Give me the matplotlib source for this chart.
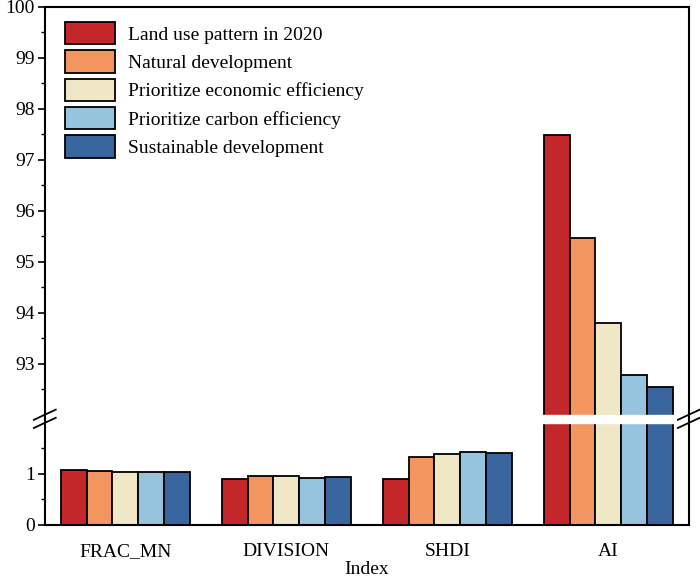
import numpy as np
import matplotlib.pyplot as plt
from matplotlib.patches import Patch
from matplotlib.ticker import FixedLocator

indices = ["FRAC_MN", "DIVISION", "SHDI", "AI"]
scenarios = ["Land use pattern in 2020", "Natural development",
             "Prioritize economic efficiency", "Prioritize carbon efficiency",
             "Sustainable development"]
colors = ["#C4272A", "#F3955F", "#EFE7C6", "#96C3DE", "#3A66A0"]

land_2020 = [1.08, 0.89, 0.89, 97.49]
natural = [1.065, 0.95, 1.34, 95.46]
economic = [1.045, 0.965, 1.38, 93.79]
carbon = [1.035, 0.925, 1.42, 92.77]
sustainable = [1.04, 0.93, 1.41, 92.54]
series = [land_2020, natural, economic, carbon, sustainable]

# broken axis: 0-2 and 92-100, squeezed gap in between
LOW, HIGH, GAP = 2.0, 92.0, 0.16

def fwd(y):
    y = np.asarray(y, dtype=float)
    return np.where(y <= LOW, y,
                    np.where(y >= HIGH, y - HIGH + LOW + GAP,
                             LOW + (y - LOW) * GAP / (HIGH - LOW)))

def inv(t):
    t = np.asarray(t, dtype=float)
    return np.where(t <= LOW, t,
                    np.where(t >= LOW + GAP, t - LOW - GAP + HIGH,
                             LOW + (t - LOW) * (HIGH - LOW) / GAP))

plt.rcParams['font.family'] = ['Liberation Serif', 'DejaVu Serif']
plt.rcParams['font.size'] = 14

fig = plt.figure(figsize=(7.0, 5.78), dpi=100)
ax = fig.add_axes([0.064, 0.092, 0.920, 0.896])
ax.set_yscale('function', functions=(fwd, inv))

x = np.arange(len(indices))
w = 0.16
for i, (vals, c, lab) in enumerate(zip(series, colors, scenarios)):
    ax.bar(x + (i - 2) * w, vals, w, color=c, edgecolor='black',
           linewidth=1.3, label=lab, zorder=2)

# white gap across the bars
ax.axhspan(LOW, HIGH, color='white', zorder=3)

ax.set_xlim(-0.5, 3.5)
ax.set_ylim(0, 100)
ax.set_xticks(x)
ax.set_xticklabels(indices)
ax.tick_params(axis='x', length=0, pad=13)
ax.yaxis.set_major_locator(FixedLocator([0, 1] + list(range(93, 101))))
ax.yaxis.set_minor_locator(FixedLocator([0.5, 1.5] + [v + 0.5 for v in range(92, 100)]))
ax.tick_params(axis='y', which='major', direction='out', length=5, width=1.2, pad=2)
ax.tick_params(axis='y', which='minor', direction='out', length=3, width=1.0)
ax.set_xlabel("Index", labelpad=1)
for s in ax.spines.values():
    s.set_linewidth(1.5)
    s.set_zorder(4)

# break marks on both spines
tr = ax.get_yaxis_transform()
for xs in (0.0, 1.0):
    for yb in (LOW, HIGH):
        t0 = fwd(yb)
        ax.plot([xs - 0.017, xs + 0.017],
                [float(inv(t0 - 0.1)), float(inv(t0 + 0.1))],
                transform=tr, color='black', lw=1.3, clip_on=False, zorder=5)

handles = [Patch(facecolor=c, edgecolor='black', linewidth=1.3) for c in colors]
ax.legend(handles, scenarios, loc='upper left', bbox_to_anchor=(0.031, 0.971),
          frameon=False, borderaxespad=0, borderpad=0, handlelength=2.6,
          handleheight=1.4, labelspacing=0.3, handletextpad=0.67, fontsize=14)

fig.savefig("out.png", dpi=100)
